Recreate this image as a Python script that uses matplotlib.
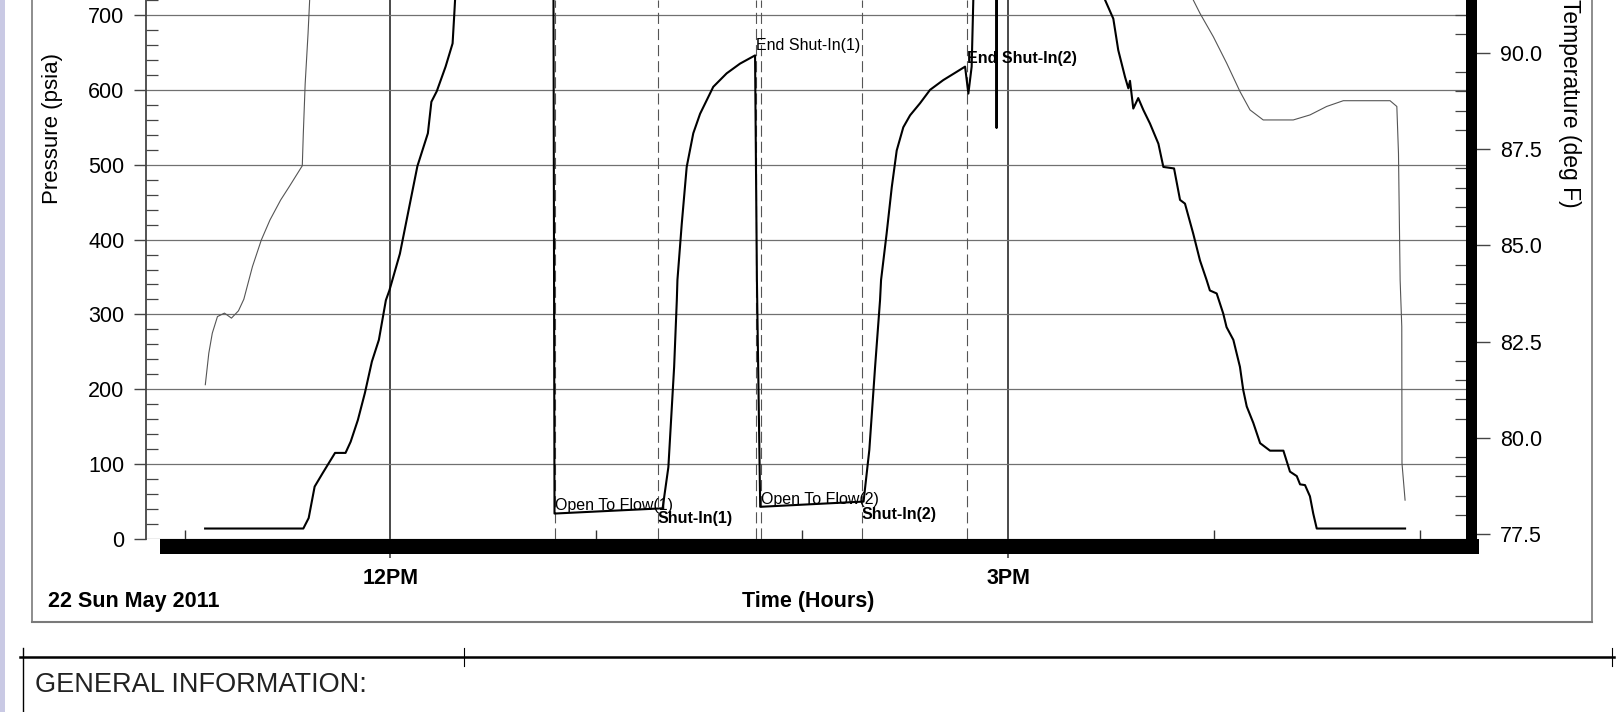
import matplotlib
matplotlib.use("Agg")
import matplotlib.pyplot as plt
from matplotlib.ticker import MultipleLocator, FixedLocator, FuncFormatter
from matplotlib.lines import Line2D

plt.rcParams["font.family"] = ["Liberation Sans", "DejaVu Sans"]

# pressure gauge trace (time in hours of the day, pressure in psia)
p_time = [11.100, 11.577, 11.603, 11.632, 11.671, 11.731, 11.782, 11.807, 11.842, 11.876,
          11.910, 11.944, 11.978, 11.995, 12.046, 12.131, 12.182, 12.199, 12.225, 12.268,
          12.302, 12.310, 12.316, 12.330, 12.400, 12.500, 12.790, 12.797, 13.322, 13.350,
          13.378, 13.391, 13.394, 13.415, 13.439, 13.471, 13.504, 13.568, 13.633, 13.698,
          13.771, 13.780, 13.796, 14.298, 14.326, 14.354, 14.378, 14.383, 14.410, 14.435,
          14.459, 14.491, 14.524, 14.572, 14.621, 14.685, 14.750, 14.791, 14.807, 14.823,
          14.831, 14.850, 14.939, 14.944, 14.949, 15.400, 15.471, 15.511, 15.535, 15.568,
          15.584, 15.592, 15.608, 15.632, 15.657, 15.689, 15.730, 15.754, 15.806, 15.835,
          15.859, 15.899, 15.932, 15.964, 15.980, 16.013, 16.045, 16.061, 16.094, 16.126,
          16.142, 16.159, 16.191, 16.224, 16.272, 16.337, 16.369, 16.402, 16.418, 16.442,
          16.466, 16.482, 16.499, 16.928]
p_psia = [14, 14, 28, 70, 88, 115, 115, 130, 159, 195,
          237, 266, 319, 332, 381, 498, 542, 584, 598, 631,
          662, 700, 730, 790, 900, 1000, 1010, 34, 41, 96,
          230, 319, 346, 421, 497, 542, 568, 604, 622, 635,
          646, 346, 43, 50, 119, 230, 319, 346, 408, 470,
          519, 550, 566, 582, 600, 613, 624, 631, 595, 631,
          720, 900, 1000, 549, 1000, 1010, 720, 695, 653, 617,
          602, 612, 575, 589, 573, 555, 528, 497, 495, 453,
          448, 408, 372, 346, 332, 328, 301, 283, 266, 230,
          199, 177, 155, 128, 118, 118, 90, 84, 73, 72,
          57, 34, 14, 14]

# temperature trace (deg F)
t_time = [11.101, 11.118, 11.135, 11.160, 11.194, 11.228, 11.262, 11.288, 11.330, 11.373,
          11.415, 11.467, 11.509, 11.572, 11.577, 11.586, 11.600, 11.608, 11.700, 15.800,
          15.899, 15.932, 15.997, 16.062, 16.126, 16.175, 16.239, 16.385, 16.466, 16.547,
          16.628, 16.855, 16.888, 16.896, 16.904, 16.912, 16.913, 16.928]
t_degF = [81.38, 82.20, 82.72, 83.15, 83.24, 83.11, 83.30, 83.60, 84.45, 85.14,
          85.66, 86.18, 86.53, 87.07, 87.91, 89.20, 90.51, 91.40, 93.50, 93.50,
          91.38, 91.03, 90.42, 89.73, 89.00, 88.52, 88.26, 88.26, 88.39, 88.61,
          88.76, 88.76, 88.61, 87.39, 84.10, 82.89, 79.34, 78.38]

# test events
event_hours = [12.798, 13.298, 13.774, 13.802, 14.288, 14.800]
event_names = ["Open To Flow(1)", "Shut-In(1)", "End Shut-In(1)",
               "Open To Flow(2)", "Shut-In(2)", "End Shut-In(2)"]

hour_ticks = [12, 15]
hour_labels = ["12PM", "3PM"]
pressure_ticks = [0, 100, 200, 300, 400, 500, 600, 700]
temp_ticks = [77.5, 80.0, 82.5, 85.0, 87.5, 90.0]

W, H = 1622, 712
PT = 0.72  # points per pixel at dpi 100

fig = plt.figure(figsize=(W / 100, H / 100), dpi=100)
x0, x1, yb = 145.6, 1471, 539
ax = fig.add_axes([x0 / W, (H - yb) / H, (x1 - x0) / W, yb / H])
ax.set_xlim(10.811, 17.2482)
ax.set_ylim(0, 720)

# grid
ax.set_yticks(pressure_ticks)
ax.yaxis.set_minor_locator(MultipleLocator(20))
ax.xaxis.set_major_locator(FixedLocator(hour_ticks))
ax.xaxis.set_major_formatter(FuncFormatter(lambda v, i: hour_labels[hour_ticks.index(int(round(v)))]))
ax.xaxis.set_minor_locator(FixedLocator([11, 13, 14, 16, 17]))
ax.grid(axis="y", color="#707070", lw=0.9)
ax.grid(axis="x", which="major", color="#2a2a2a", lw=1.2)
ax.set_axisbelow(True)

for t in event_hours:
    ax.axvline(t, color="#555555", lw=0.8, dashes=(10, 4.5), zorder=1.5)

ax.plot(p_time, p_psia, color="black", lw=1.5, zorder=3)

# spines
ax.spines["top"].set_visible(False)
ax.spines["right"].set_visible(False)
ax.spines["left"].set_color("#444444")
ax.spines["left"].set_linewidth(1.3)
ax.spines["bottom"].set_linewidth(15 * PT)
ax.spines["bottom"].set_position(("outward", 7 * PT))
ax.spines["bottom"].set_bounds(10.9126, 17.2482)

ax.tick_params(axis="y", which="major", direction="out", length=11.6 * PT, width=1.0,
               color="#444444", pad=7, labelsize=15.5)
ax.tick_params(axis="y", which="minor", direction="in", length=12.4 * PT, width=0.9,
               color="#444444")
ax.tick_params(axis="x", which="major", direction="out", length=12 * PT, width=1.1,
               color="#333333", pad=7, labelsize=15.5)
ax.tick_params(axis="x", which="minor", direction="in", length=16 * PT, width=1.0,
               color="#333333")
for lab in ax.get_xticklabels():
    lab.set_fontweight("bold")

ax.set_ylabel("Pressure (psia)", fontsize=16)
ax.yaxis.label.set_va("center")
ax.yaxis.set_label_coords((52.6 - x0) / (x1 - x0), (yb - 129) / yb)
ax.set_xlabel("Time (Hours)", fontsize=15.5, fontweight="bold")
ax.xaxis.label.set_va("center")
ax.xaxis.set_label_coords(0.5, -(602 - yb) / yb)

# event labels
label_psia = [45, 27, 659, 53, 33, 642]
label_weight = ["normal", "bold", "normal", "normal", "bold", "bold"]
for t, name, y, w in zip(event_hours, event_names, label_psia, label_weight):
    ax.text(t, y, name, fontsize=11.5, fontweight=w, ha="left", va="center", zorder=4)

# temperature axis
ax2 = ax.twinx()
ax2.set_ylim(77.37, 91.377)
ax2.plot(t_time, t_degF, color="#555555", lw=0.8, zorder=2)
ax2.set_yticks(temp_ticks)
ax2.yaxis.set_major_formatter(FuncFormatter(lambda v, i: f"{v:.1f}"))
ax2.yaxis.set_minor_locator(MultipleLocator(0.5))
for s in ["top", "left", "bottom"]:
    ax2.spines[s].set_visible(False)
ax2.spines["right"].set_linewidth(11 * PT)
ax2.spines["right"].set_color("black")
ax2.tick_params(axis="y", which="major", direction="out", length=19 * PT, width=1.0,
                color="#444444", pad=7.2, labelsize=15.5)
ax2.tick_params(axis="y", which="minor", direction="in", length=16 * PT, width=0.9,
                color="#444444")
ax2.set_ylabel("Temperature (deg F)", fontsize=16.5, rotation=270)
ax2.yaxis.label.set_va("center")
ax2.yaxis.label.set_ha("center")
ax2.yaxis.set_label_coords((1570 - x0) / (x1 - x0), (yb - 103) / yb)

# date stamp
fig.text(48 / W, 1 - 602 / H, "22 Sun May 2011", fontsize=15.5, fontweight="bold",
         ha="left", va="center")

# chart frame (top is cut off)
fc = "#7a7a7a"
fig.add_artist(Line2D([31.7 / W, 31.7 / W], [1.0, 1 - 621.7 / H], color=fc, lw=1.2))
fig.add_artist(Line2D([31.7 / W, 1591.7 / W], [1 - 621.7 / H, 1 - 621.7 / H], color=fc, lw=1.5))
fig.add_artist(Line2D([1591.7 / W, 1591.7 / W], [1.0, 1 - 621.7 / H], color=fc, lw=1.2))

# general information block
yl = 1 - 657.3 / H
fig.add_artist(Line2D([20 / W, 1614 / W], [yl, yl], color="black", lw=1.8))
fig.add_artist(Line2D([22.7 / W, 22.7 / W], [1 - 648 / H, 0], color="black", lw=1.0))
fig.add_artist(Line2D([464.3 / W, 464.3 / W], [1 - 648 / H, 1 - 666 / H], color="black", lw=0.8))
fig.add_artist(Line2D([1612 / W, 1612 / W], [1 - 648 / H, 1 - 666 / H], color="black", lw=0.8))
fig.text(35 / W, 1 - 685 / H, "GENERAL INFORMATION:", fontsize=19.5, color="#222222",
         ha="left", va="center")

# scan border strip on the left
fig.add_artist(plt.Rectangle((0, 0), 5 / W, 1, transform=fig.transFigure,
                             color="#c9c9e4", lw=0))

fig.savefig("out.png", dpi=100)
